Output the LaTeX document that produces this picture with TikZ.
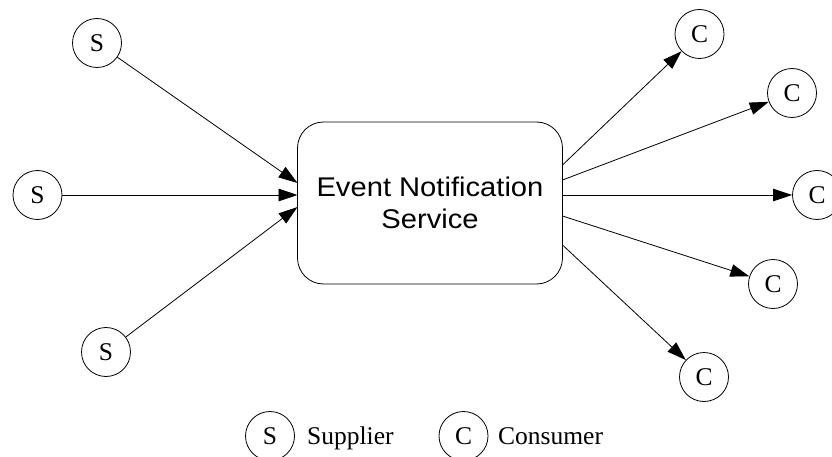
\documentclass[tikz,border=0pt]{standalone}
\usepackage{fontspec}
\setmainfont{Liberation Serif}
\newfontfamily\boxfont[FakeStretch=1.08]{Liberation Sans}
\usetikzlibrary{arrows.meta}
\tikzset{
  party/.style={circle,draw,line width=0.8pt,minimum size=49pt,inner sep=0pt,
    font=\fontsize{25.5}{30}\selectfont},
  service/.style={draw,line width=0.8pt,rounded corners=26pt,minimum width=265pt,
    minimum height=162pt,align=center,font=\boxfont\fontsize{27}{32.5}\selectfont},
  flow/.style={line width=0.8pt,-{Triangle[length=19pt,width=12.5pt]}},
  legendtext/.style={anchor=base west,inner sep=0pt,font=\fontsize{25.5}{30}\selectfont},
}
\begin{document}
\begin{tikzpicture}[x=1pt,y=-1pt]
\useasboundingbox (0,0) rectangle (832,457);

% central service
\node[service] (ens) at (430,203) {Event Notification\\Service};

% suppliers
\node[party] (s1) at (97,43)   {S};
\node[party] (s2) at (37.5,195) {S};
\node[party] (s3) at (106,352) {S};

% consumers
\node[party] (c1) at (699.5,34) {C};
\node[party] (c2) at (792,93)   {C};
\node[party] (c3) at (817,195)  {C};
\node[party] (c4) at (773,284)  {C};
\node[party] (c5) at (704,377)  {C};

% attachment points on the service box
\coordinate (in1) at (297.5,183);
\coordinate (in2) at (297.5,195);
\coordinate (in3) at (297.5,207);
\coordinate (out1) at (562.5,165);
\coordinate (out2) at (562.5,180);
\coordinate (out3) at (562.5,195);
\coordinate (out4) at (562.5,216);
\coordinate (out5) at (562.5,245);

% incoming events
\draw[flow] (s1) -- (in1);
\draw[flow] (s2) -- (in2);
\draw[flow] (s3) -- (in3);

% outgoing notifications
\draw[flow] (out1) -- (c1);
\draw[flow] (out2) -- (c2);
\draw[flow] (out3) -- (c3);
\draw[flow] (out4) -- (c4);
\draw[flow] (out5) -- (c5);

% legend
\node[party] (ls) at (270,436) {S};
\node[legendtext] (lst) at (307,444.5) {Supplier};
\node[party] (lc) at (463.5,436) {C};
\node[legendtext] (lct) at (498,444.5) {Consumer};
\end{tikzpicture}
\end{document}
